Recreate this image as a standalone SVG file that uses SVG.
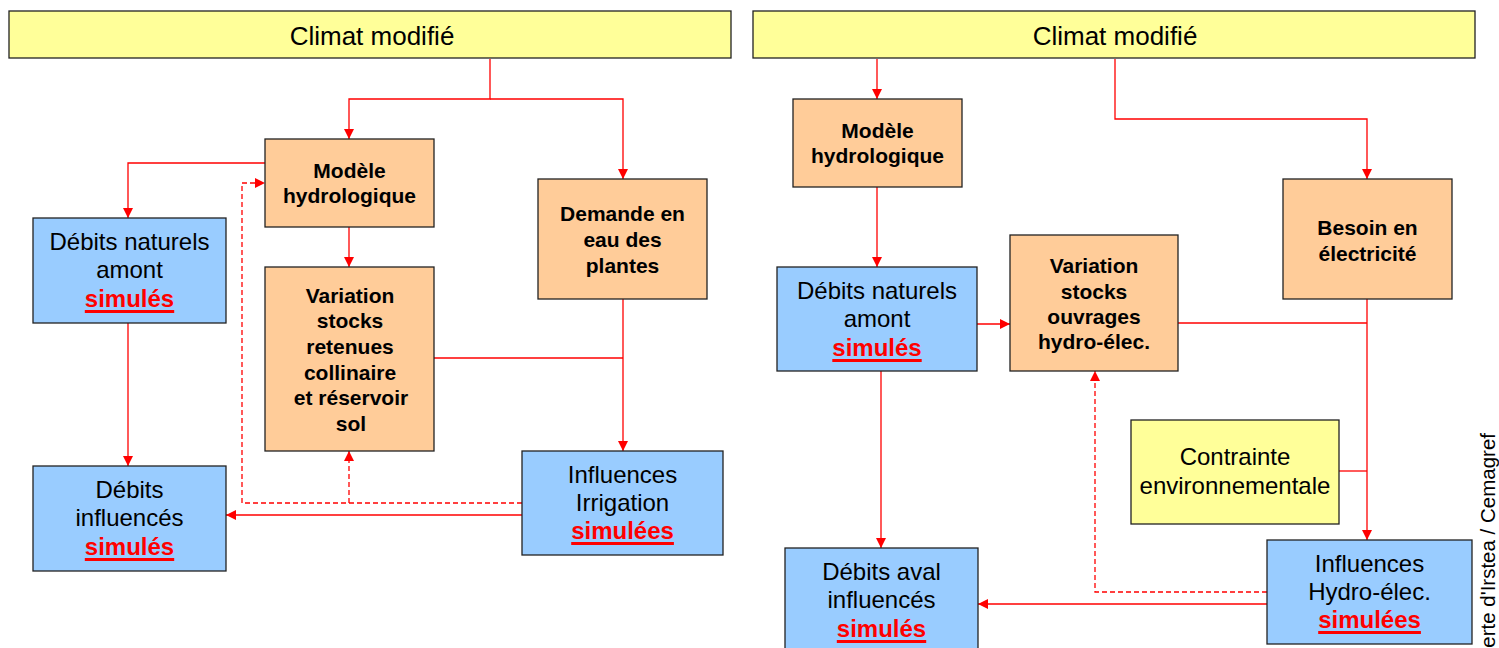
<svg xmlns="http://www.w3.org/2000/svg" width="1499" height="648" viewBox="0 0 1499 648">
  <defs>
    <marker id="arr" markerUnits="userSpaceOnUse" markerWidth="10" markerHeight="10" refX="10" refY="5" orient="auto">
      <path d="M0,0 L10,5 L0,10 z" fill="#ff0000"/>
    </marker>
    <style>
      .box { stroke: #222; stroke-width: 1.3; }
      .yel { fill: #ffff99; }
      .org { fill: #ffcc99; }
      .blu { fill: #99ccff; }
      .t { font-family: "Liberation Sans", Arial, sans-serif; text-anchor: middle; fill: #000; }
      .reg { font-size: 24px; }
      .big { font-size: 26px; }
      .bold { font-size: 21px; font-weight: bold; }
      .sim { font-size: 24px; font-weight: bold; fill: #ff0000; }
      .ul { fill: #ff0000; }
      .c { fill: none; stroke: #ff0000; stroke-width: 1.3; }
      .arrow { marker-end: url(#arr); }
      .dash { stroke-dasharray: 5 3; }
    </style>
  </defs>

  <rect width="1499" height="648" fill="#ffffff"/>

  <!-- Connectors -->
  <g id="connectors">
    <!-- left panel -->
    <path class="c arrow" d="M490,59 V99 H349 V139"/>
    <path class="c arrow" d="M490,99 H623 V179"/>
    <path class="c arrow" d="M265,163 H128 V218"/>
    <path class="c arrow" d="M349,227 V267"/>
    <path class="c arrow" d="M128,323 V466"/>
    <path class="c arrow" d="M623,299 V451"/>
    <path class="c" d="M434,358 H623"/>
    <path class="c arrow" d="M522,515 H226"/>
    <path class="c dash arrow" d="M522,503 H242 V183 H265"/>
    <path class="c dash arrow" d="M349,503 V451"/>
    <!-- right panel -->
    <path class="c arrow" d="M877,59 V99"/>
    <path class="c arrow" d="M1115,59 V119 H1367 V179"/>
    <path class="c arrow" d="M877,187 V267"/>
    <path class="c arrow" d="M977,324 H1010"/>
    <path class="c arrow" d="M1367,299 V540"/>
    <path class="c" d="M1178,323 H1367"/>
    <path class="c" d="M1339,471 H1367"/>
    <path class="c arrow" d="M881,371 V548"/>
    <path class="c arrow" d="M1267,604 H978"/>
    <path class="c dash arrow" d="M1267,592 H1095 V371"/>
  </g>

  <!-- Left panel nodes -->
  <g id="climat-left">
    <rect class="box yel" x="9" y="11" width="722" height="47"/>
    <text class="t big" x="372" y="45">Climat modifié</text>
  </g>
  <g id="modele-left">
    <rect class="box org" x="265" y="139" width="169" height="88"/>
    <text class="t bold" x="349.5" y="178">Modèle</text>
    <text class="t bold" x="349.5" y="203">hydrologique</text>
  </g>
  <g id="debits-naturels-left">
    <rect class="box blu" x="33" y="218" width="193" height="105"/>
    <text class="t reg" x="129.5" y="250">Débits naturels</text>
    <text class="t reg" x="129.5" y="278">amont</text>
    <text class="t sim" x="129.5" y="307">simulés</text>
    <rect class="ul" x="84.8" y="310" width="89.4" height="3"/>
  </g>
  <g id="variation-left">
    <rect class="box org" x="265" y="267" width="169" height="184"/>
    <text class="t bold" x="350" y="303">Variation</text>
    <text class="t bold" x="350" y="328">stocks</text>
    <text class="t bold" x="350" y="354">retenues</text>
    <text class="t bold" x="350" y="380">collinaire</text>
    <text class="t bold" x="351" y="405">et réservoir</text>
    <text class="t bold" x="351" y="431">sol</text>
  </g>
  <g id="demande-left">
    <rect class="box org" x="538" y="179" width="169" height="120"/>
    <text class="t bold" x="622.5" y="221">Demande en</text>
    <text class="t bold" x="622.5" y="247">eau des</text>
    <text class="t bold" x="622.5" y="273">plantes</text>
  </g>
  <g id="debits-influences-left">
    <rect class="box blu" x="33" y="466" width="193" height="105"/>
    <text class="t reg" x="129.5" y="498">Débits</text>
    <text class="t reg" x="129.5" y="526">influencés</text>
    <text class="t sim" x="129.5" y="555">simulés</text>
    <rect class="ul" x="84.8" y="558" width="89.4" height="3"/>
  </g>
  <g id="influences-irrigation">
    <rect class="box blu" x="522" y="451" width="201" height="104"/>
    <text class="t reg" x="622.5" y="483">Influences</text>
    <text class="t reg" x="622.5" y="511">Irrigation</text>
    <text class="t sim" x="622.5" y="539">simulées</text>
    <rect class="ul" x="571.2" y="542" width="102.7" height="3"/>
  </g>

  <!-- Right panel nodes -->
  <g id="climat-right">
    <rect class="box yel" x="753" y="11" width="722" height="47"/>
    <text class="t big" x="1115" y="45">Climat modifié</text>
  </g>
  <g id="modele-right">
    <rect class="box org" x="793" y="99" width="169" height="88"/>
    <text class="t bold" x="877.5" y="138">Modèle</text>
    <text class="t bold" x="877.5" y="163">hydrologique</text>
  </g>
  <g id="besoin-electricite">
    <rect class="box org" x="1283" y="179" width="169" height="120"/>
    <text class="t bold" x="1367.5" y="235">Besoin en</text>
    <text class="t bold" x="1367.5" y="261">électricité</text>
  </g>
  <g id="debits-naturels-right">
    <rect class="box blu" x="777" y="267" width="200" height="104"/>
    <text class="t reg" x="877" y="299">Débits naturels</text>
    <text class="t reg" x="877" y="327">amont</text>
    <text class="t sim" x="877" y="356">simulés</text>
    <rect class="ul" x="832.3" y="359" width="89.4" height="3"/>
  </g>
  <g id="variation-right">
    <rect class="box org" x="1010" y="235" width="168" height="136"/>
    <text class="t bold" x="1094" y="273">Variation</text>
    <text class="t bold" x="1094" y="299">stocks</text>
    <text class="t bold" x="1094" y="324">ouvrages</text>
    <text class="t bold" x="1094" y="349">hydro-élec.</text>
  </g>
  <g id="contrainte">
    <rect class="box yel" x="1131" y="420" width="208" height="104"/>
    <text class="t reg" x="1235" y="465">Contrainte</text>
    <text class="t reg" x="1235" y="494">environnementale</text>
  </g>
  <g id="influences-hydro">
    <rect class="box blu" x="1267" y="540" width="205" height="104"/>
    <text class="t reg" x="1369.5" y="572">Influences</text>
    <text class="t reg" x="1369.5" y="600">Hydro-élec.</text>
    <text class="t sim" x="1369.5" y="628">simulées</text>
    <rect class="ul" x="1318.2" y="631" width="102.7" height="3"/>
  </g>
  <g id="debits-aval">
    <rect class="box blu" x="785" y="548" width="193" height="110"/>
    <text class="t reg" x="881.5" y="580">Débits aval</text>
    <text class="t reg" x="881.5" y="608">influencés</text>
    <text class="t sim" x="881.5" y="637">simulés</text>
    <rect class="ul" x="836.8" y="640" width="89.4" height="3"/>
  </g>

  <!-- Credit line along the right edge -->
  <text x="0" y="0" transform="translate(1495,433) rotate(-90)" font-family="'Liberation Sans', Arial, sans-serif" font-size="20.5" text-anchor="end" fill="#000">erte d'Irstea / Cemagref</text>
</svg>
